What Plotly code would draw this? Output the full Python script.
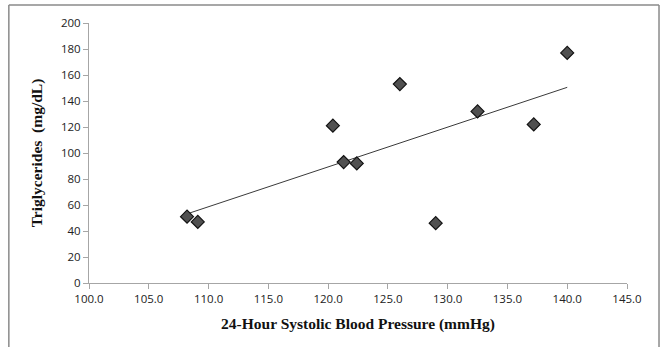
import numpy as np
import plotly.graph_objects as go

sbp_24h = [108.2, 109.1, 120.4, 121.3, 122.4, 126.0, 129.0, 132.5, 137.2, 140.0]
triglycerides = [51, 47, 121, 93, 92, 153, 46, 132, 122, 177]
x_ticks = [100, 105, 110, 115, 120, 125, 130, 135, 140, 145]
y_ticks = [0, 20, 40, 60, 80, 100, 120, 140, 160, 180, 200]

slope, intercept = np.polyfit(sbp_24h, triglycerides, 1)
trend_x = [min(sbp_24h), max(sbp_24h)]
trend_y = [slope * v + intercept for v in trend_x]

fig = go.Figure()
fig.add_trace(go.Scatter(
    x=trend_x, y=trend_y, mode="lines",
    line=dict(color="#3a3a3a", width=1), hoverinfo="skip", showlegend=False))
fig.add_trace(go.Scatter(
    x=sbp_24h, y=triglycerides, mode="markers",
    marker=dict(symbol="diamond", size=10, color="#505050",
                line=dict(color="#111111", width=1.2)),
    showlegend=False))

axis_common = dict(showgrid=False, zeroline=False, showline=True,
                   linecolor="#a6a6a6", linewidth=1, ticks="outside",
                   tickcolor="#a6a6a6", ticklen=5,
                   tickfont=dict(family="Open Sans, Liberation Sans, sans-serif", size=11.5, color="#222222"))

title_font = dict(family="Liberation Serif, Times New Roman, serif", size=15.5, color="#111111")

fig.update_layout(
    width=663, height=347,
    margin=dict(l=89, r=36, t=23, b=64),
    paper_bgcolor="white", plot_bgcolor="white",
    xaxis=dict(range=[100, 145], tickvals=x_ticks,
               ticktext=[f"{v:.1f}" for v in x_ticks],
               title=dict(text="<b>24-Hour Systolic Blood Pressure (mmHg)</b>",
                          font=title_font, standoff=13),
               **axis_common),
    yaxis=dict(range=[0, 200], tickvals=y_ticks,
               title=dict(text="<b>Triglycerides  (mg/dL)</b>",
                          font=title_font, standoff=14),
               **axis_common),
    shapes=[
        dict(type="line", xref="paper", yref="paper", x0=-0.149, x1=-0.149, y0=-0.3, y1=1.069,
             line=dict(color="#8a8a8a", width=1.5)),
        dict(type="line", xref="paper", yref="paper", x0=-0.149, x1=1.0595, y0=1.069, y1=1.069,
             line=dict(color="#8a8a8a", width=1.5)),
        dict(type="line", xref="paper", yref="paper", x0=1.0595, x1=1.0595, y0=-0.3, y1=1.069,
             line=dict(color="#8a8a8a", width=1.5)),
    ],
)

fig.write_html("out.html",
               config={"displayModeBar": False},
               post_script="document.body.style.margin='0';document.body.style.overflow='hidden';")
